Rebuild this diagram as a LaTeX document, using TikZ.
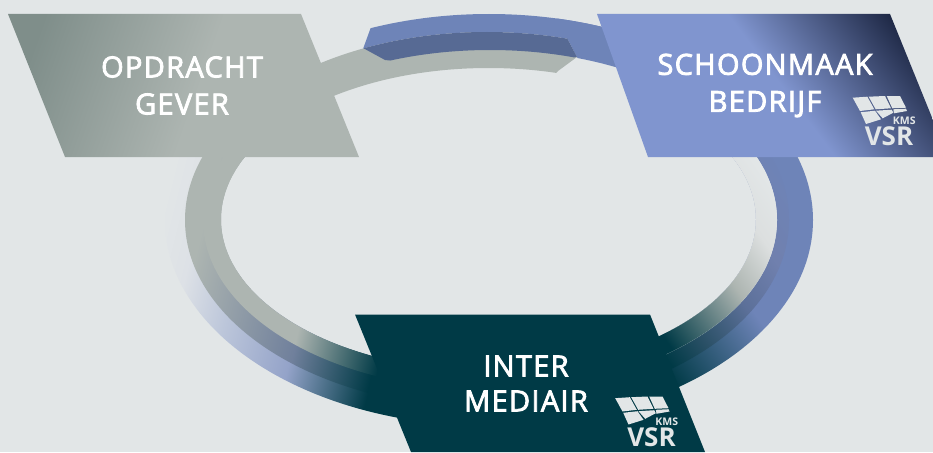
\documentclass[tikz,border=0pt]{standalone}
\usepackage{fontspec}
\setmainfont{Open Sans}
\newfontfamily\semib[FakeBold=2.8,LetterSpace=4.5]{Open Sans}
\definecolor{bgc}{HTML}{E2E6E7}
\definecolor{gryc}{HTML}{ADB5B1}
\definecolor{bluc}{HTML}{6E84B8}
\definecolor{drkb}{HTML}{576A94}
\definecolor{teal}{HTML}{003A46}
\definecolor{peri}{HTML}{94A3C9}
\definecolor{peria}{HTML}{DDE1E6}
\definecolor{perib}{HTML}{BCC6DA}
\definecolor{midl}{HTML}{70809C}
\definecolor{midr}{HTML}{7080AE}
\definecolor{midr2}{HTML}{5C7099}
\definecolor{midr3}{HTML}{2A5066}
\definecolor{lgry}{HTML}{DCDFDF}
\definecolor{pgl}{HTML}{7F8E8A}
\definecolor{pgr}{HTML}{8095CF}
\definecolor{pgd}{HTML}{1E2845}
\pgfdeclarehorizontalshading{shROuter}{100bp}{color(0bp)=(bluc); color(48.1bp)=(bluc); color(53.4bp)=(teal); color(100bp)=(teal)}
\pgfdeclarehorizontalshading{shRMid}{100bp}{color(0bp)=(bluc); color(42.5bp)=(bluc); color(45.75bp)=(midr); color(48.3bp)=(midr2); color(51bp)=(midr3); color(53bp)=(teal); color(100bp)=(teal)}
\pgfdeclarehorizontalshading{shRInner}{100bp}{color(0bp)=(bgc); color(43.75bp)=(bgc); color(45.65bp)=(lgry); color(48.15bp)=(gryc); color(52.5bp)=(teal); color(100bp)=(teal)}
\pgfdeclarehorizontalshading{shLOuter}{100bp}{color(0bp)=(bgc); color(42.05bp)=(bgc); color(44bp)=(peria); color(46.5bp)=(perib); color(50.1bp)=(peri); color(54.3bp)=(teal); color(100bp)=(teal)}
\pgfdeclarehorizontalshading{shLMid}{100bp}{color(0bp)=(gryc); color(44.25bp)=(gryc); color(50.2bp)=(midl); color(54.25bp)=(teal); color(100bp)=(teal)}
\pgfdeclarehorizontalshading{shLInner}{100bp}{color(0bp)=(gryc); color(50.15bp)=(gryc); color(54.5bp)=(teal); color(100bp)=(teal)}
\pgfdeclarehorizontalshading{shPL}{100bp}{color(0bp)=(pgl); color(41.5bp)=(pgl); color(50bp)=(gryc); color(100bp)=(gryc)}
\pgfdeclarehorizontalshading{shPR}{100bp}{color(0bp)=(pgr); color(50bp)=(pgr); color(56.5bp)=(pgd); color(100bp)=(pgd)}
\def\Ea{(489,220) ellipse [x radius=324,y radius=206]}
\def\Eb{(487,220) ellipse [x radius=302,y radius=188]}
\def\Ec{(490,220) ellipse [x radius=287,y radius=170]}
\def\Ed{(488.5,219.5) ellipse [x radius=267.5,y radius=151.5]}
\newcommand\axial[4]{\shade[shading=#3,shading angle=#4] (#1,#2) ++(-500,-500) rectangle ++(1000,1000);}
\newcommand\logomark[3]{%
  \begin{scope}[shift={(#2,#3)}]
    \fill[bgc] (852.7,97.7) -- (867.3,96.7) -- (874.3,109.3) -- (860,111) -- cycle;
    \fill[bgc] (868.7,96.7) -- (885,96) -- (891,108.3) -- (875.7,109.3) -- cycle;
    \fill[bgc] (886.7,96) -- (900,96) -- (906,107.7) -- (892.3,108.3) -- cycle;
    \fill[bgc] (860.7,112.3) -- (875,110.7) -- (881,119.3) -- (866,124) -- cycle;
    \fill[bgc] (876,110.7) -- (891.7,109.7) -- (893.3,112.7) -- (882.7,118.3) -- cycle;
    \fill[bgc] (893.3,109.3) -- (906,108.7) -- (907,111) -- (894,113.3) -- cycle;
    \node[kmsfont] (#1kms) at (904.3,121) {KMS};
    \node[vsrfont] (#1vsr) at (889,136.5) {VSR};
  \end{scope}}
\tikzset{
  kmsfont/.style={text=bgc,font=\bfseries\fontsize{10.5}{10.5}\selectfont,inner sep=0pt},
  vsrfont/.style={text=bgc,font=\bfseries\fontsize{26}{26}\selectfont,inner sep=0pt},
  title/.style={text=white,align=center,inner sep=0pt,font=\semib\fontsize{29}{37}\selectfont},
  titleb/.style={text=white,align=center,inner sep=0pt,font=\semib\fontsize{29}{35}\selectfont}
}
\begin{document}
\begin{tikzpicture}[x=1pt,y=-1pt]
\useasboundingbox (0,0) rectangle (933,452);
\fill[bgc] (0,0) rectangle (933,452);
\begin{scope}
\clip (0,0) rectangle (933,452);
% grey top
\begin{scope}
  \clip (100,160) -- (100,0) -- (363,0) -- (363,48) -- (480,30) -- (577,57) -- (558,71) -- (480,160) -- cycle;
  \fill[gryc,even odd rule] \Eb \Ed;
\end{scope}
% left lower bands, each laid over the one before so no seam shows
\begin{scope}
  \clip (100,150) rectangle (489,452);
  \begin{scope}[even odd rule]\clip \Ea \Ec; \axial{290}{350}{shLOuter}{-14}\end{scope}
  \begin{scope}[even odd rule]\clip \Eb \Ed; \axial{290}{350}{shLMid}{-14}\end{scope}
  \begin{scope}[even odd rule]\clip \Ec \Ed; \axial{290}{350}{shLInner}{-14}\end{scope}
\end{scope}
% outer blue: solid above, shaded below
\begin{scope}
  \clip (371,27) -- (381,0) -- (933,0) -- (933,150) -- (489,150) -- (489,120) -- (363,49) -- cycle;
  \fill[bluc,even odd rule] \Ea \Eb;
\end{scope}
% right mid solid part, over the outer band
\begin{scope}
  \clip (547,0) -- (933,0) -- (933,150) -- (600,150) -- (600,100) -- (577,57) -- cycle;
  \fill[bluc,even odd rule] \Ea \Ec;
\end{scope}
% right lower bands
\begin{scope}
  \clip (600,149.5) rectangle (933,452);
  \begin{scope}[even odd rule]\clip \Ea \Ec; \axial{720}{330}{shROuter}{215}\end{scope}
  \begin{scope}[even odd rule]\clip \Eb \Ed; \axial{720}{330}{shRMid}{215}\end{scope}
  \begin{scope}[even odd rule]\clip \Ec \Ed; \fill[bgc] (600,149) rectangle (933,452); \axial{720}{330}{shRInner}{215}\end{scope}
\end{scope}
% dark overlap
\begin{scope}
  \clip (363,48) -- (480,20) -- (567,38) -- (577,57) -- (480,70) -- (385,60) -- cycle;
  \fill[drkb,even odd rule] \Eb \Ec;
\end{scope}
% boxes
\begin{scope}
  \clip (8,14) -- (301,14) -- (359,157) -- (65,157) -- cycle;
  \axial{200}{85}{shPL}{-19.5}
\end{scope}
\begin{scope}
  \clip (597,14) -- (890,14) -- (948,157) -- (648,157) -- cycle;
  \axial{830}{150}{shPR}{37}
\end{scope}
\fill[teal] (355,314.5) -- (650,314.5) -- (705,452) -- (411,452) -- cycle;
\end{scope}
\node[title] (opdracht) at (182,85.5) {OPDRACHT\\GEVER};
\node[title] (schoonmaak) at (765,85.5) {SCHOONMAAK\\BEDRIJF};
\node[titleb] (inter) at (526,383.5) {INTER\\MEDIAIR};
\logomark{a}{0}{0}
\logomark{b}{-237.5}{300.5}
\end{tikzpicture}
\end{document}
